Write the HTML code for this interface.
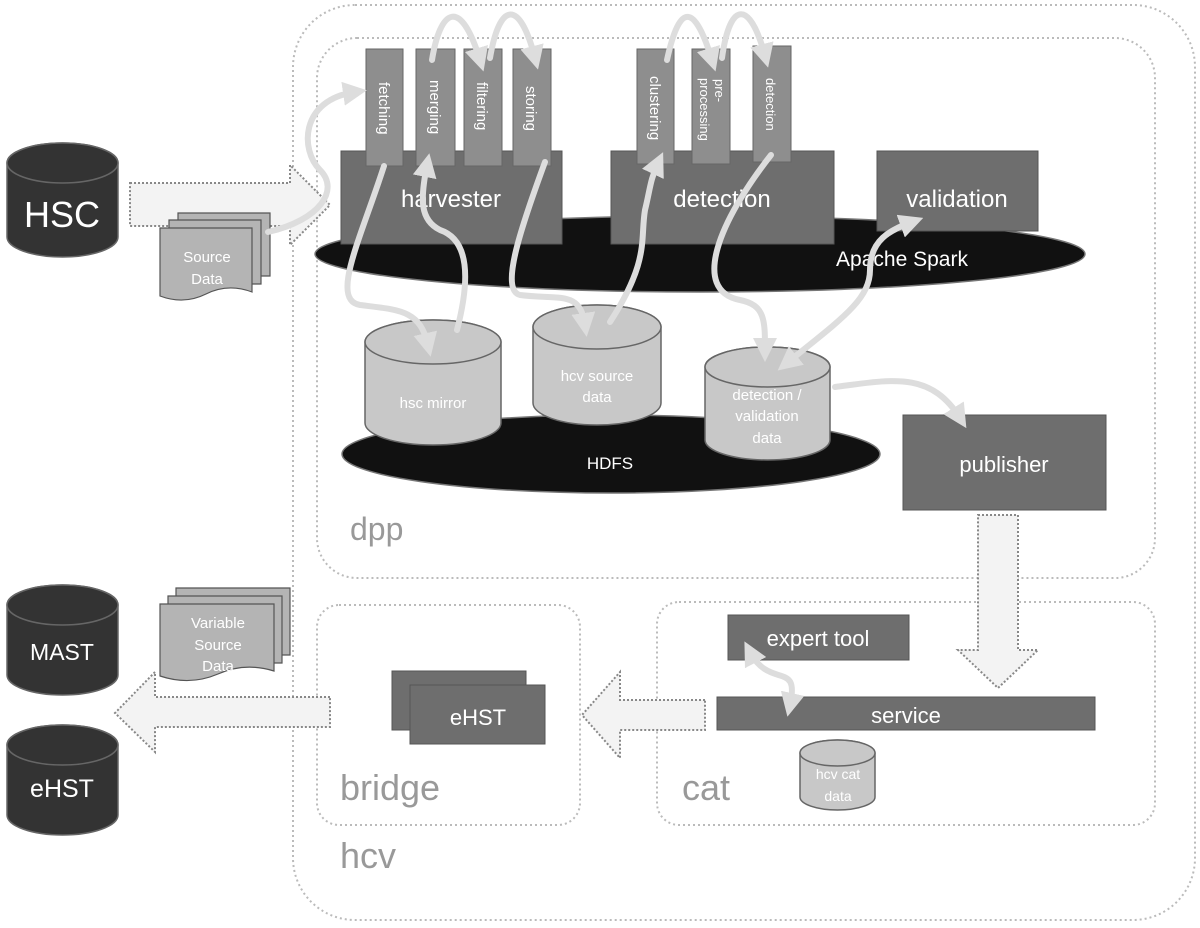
<!DOCTYPE html>
<html><head><meta charset="utf-8"><style>
html,body{margin:0;padding:0;background:#fff}
svg{display:block}
text{font-family:"Liberation Sans",sans-serif}
</style></head><body>
<svg width="1200" height="928" viewBox="0 0 1200 928" xmlns="http://www.w3.org/2000/svg">
<defs>
<marker id="ah" viewBox="0 0 10 10" refX="5" refY="5" markerWidth="4" markerHeight="4" orient="auto-start-reverse" markerUnits="strokeWidth">
<path d="M0,0 L10,5 L0,10 z" fill="#ddd"/></marker>
</defs>
<!-- containers -->
<rect x="293" y="5" width="902" height="915" rx="62" fill="none" stroke="#bbb" stroke-width="2" stroke-dasharray="2,3"/>
<rect x="317" y="38" width="838" height="540" rx="40" fill="none" stroke="#bbb" stroke-width="2" stroke-dasharray="2,3"/>
<rect x="317" y="605" width="263" height="220" rx="22" fill="none" stroke="#bbb" stroke-width="2" stroke-dasharray="2,3"/>
<rect x="657" y="602" width="498" height="223" rx="22" fill="none" stroke="#bbb" stroke-width="2" stroke-dasharray="2,3"/>
<text x="350" y="540" font-size="32" fill="#999">dpp</text>
<text x="340" y="800" font-size="36" fill="#999">bridge</text>
<text x="682" y="800" font-size="36" fill="#999">cat</text>
<text x="340" y="868" font-size="36" fill="#999">hcv</text>

<!-- HSC fat arrow -->
<path d="M130,183 H290 V165 L330,205 L290,245 V226 H130 Z" fill="#f3f3f3" stroke="#888" stroke-width="2" stroke-dasharray="2,2"/>

<!-- spark ellipse -->
<ellipse cx="700" cy="254" rx="385" ry="38" fill="#111" stroke="#777" stroke-width="1.5"/>
<text x="902" y="266" font-size="21" fill="#fff" text-anchor="middle">Apache Spark</text>
<!-- HDFS -->
<ellipse cx="611" cy="454" rx="269" ry="39" fill="#111" stroke="#777" stroke-width="1.5"/>
<text x="610" y="469" font-size="17" fill="#fff" text-anchor="middle">HDFS</text>

<!-- harvester -->
<rect x="341" y="151" width="221" height="93" fill="#6e6e6e" stroke="#555"/>
<rect x="611" y="151" width="223" height="93" fill="#6e6e6e" stroke="#555"/>
<rect x="877" y="151" width="161" height="80" fill="#6e6e6e" stroke="#555"/>
<text x="451" y="207" font-size="24" fill="#fff" text-anchor="middle">harvester</text>
<text x="722" y="207" font-size="24" fill="#fff" text-anchor="middle">detection</text>
<text x="957" y="207" font-size="24" fill="#fff" text-anchor="middle">validation</text>
<g fill="#8e8e8e" stroke="#666">
<rect x="366" y="49" width="37" height="117"/>
<rect x="416" y="49" width="39" height="117"/>
<rect x="464" y="49" width="38" height="117"/>
<rect x="513" y="49" width="38" height="117"/>
<rect x="637" y="49" width="37" height="115"/>
<rect x="692" y="49" width="38" height="115"/>
<rect x="753" y="46" width="38" height="116"/>
</g>
<g fill="#fff" font-size="15">
<text transform="translate(379,82) rotate(90)">fetching</text>
<text transform="translate(430,80) rotate(90)">merging</text>
<text transform="translate(477,82) rotate(90)">filtering</text>
<text transform="translate(526,86) rotate(90)">storing</text>
<text transform="translate(650,76) rotate(90)">clustering</text>
<text transform="translate(715,79) rotate(90)" font-size="13">pre-</text>
<text transform="translate(700,78) rotate(90)" font-size="13">processing</text>
<text transform="translate(766,78) rotate(90)" font-size="13">detection</text>
</g>

<!-- cylinders -->
<g stroke="#666" stroke-width="1.5">
<path d="M365,342 A68,22 0 0 1 501,342 V423 A68,22 0 0 1 365,423 Z" fill="#c8c8c8"/>
<ellipse cx="433" cy="342" rx="68" ry="22" fill="#c8c8c8"/>
<path d="M533,327 A64,22 0 0 1 661,327 V403 A64,22 0 0 1 533,403 Z" fill="#c8c8c8"/>
<ellipse cx="597" cy="327" rx="64" ry="22" fill="#c8c8c8"/>
<path d="M705,367 A62.5,20 0 0 1 830,367 V440 A62.5,20 0 0 1 705,440 Z" fill="#c8c8c8"/>
<ellipse cx="767.5" cy="367" rx="62.5" ry="20" fill="#c8c8c8"/>
<path d="M800,753 A37.5,13 0 0 1 875,753 V797 A37.5,13 0 0 1 800,797 Z" fill="#c8c8c8"/>
<ellipse cx="837.5" cy="753" rx="37.5" ry="13" fill="#c8c8c8"/>
<path d="M7,163 A55.5,20 0 0 1 118,163 V237 A55.5,20 0 0 1 7,237 Z" fill="#333"/>
<ellipse cx="62.5" cy="163" rx="55.5" ry="20" fill="#333"/>
<path d="M7,605 A55.5,20 0 0 1 118,605 V675 A55.5,20 0 0 1 7,675 Z" fill="#333"/>
<ellipse cx="62.5" cy="605" rx="55.5" ry="20" fill="#333"/>
<path d="M7,745 A55.5,20 0 0 1 118,745 V815 A55.5,20 0 0 1 7,815 Z" fill="#333"/>
<ellipse cx="62.5" cy="745" rx="55.5" ry="20" fill="#333"/>
</g>
<g fill="#fff" text-anchor="middle">
<text x="433" y="408" font-size="15">hsc mirror</text>
<text x="597" y="381" font-size="15">hcv source</text>
<text x="597" y="402" font-size="15">data</text>
<text x="767" y="400" font-size="15">detection /</text>
<text x="767" y="421" font-size="15">validation</text>
<text x="767" y="443" font-size="15">data</text>
<text x="838" y="779" font-size="14">hcv cat</text>
<text x="838" y="801" font-size="14">data</text>
<text x="62" y="227" font-size="36">HSC</text>
<text x="62" y="660" font-size="23">MAST</text>
<text x="62" y="797" font-size="25">eHST</text>
</g>

<!-- source data docs -->
<g fill="#b4b4b4" stroke="#555" stroke-width="1.2">
<path d="M178,213 H270 V276 H178 Z"/>
<path d="M169,220 H261 V284 H169 Z"/>
<path d="M160,228 H252 V292 Q228,283 206,294 Q184,305 160,296 Z"/>
<path d="M176,588 H290 V655 H176 Z"/>
<path d="M168,596 H282 V663 H168 Z"/>
<path d="M160,604 H274 V671 Q245,662 218,674 Q190,686 160,676 Z"/>
</g>
<g fill="#fff" text-anchor="middle" font-size="15">
<text x="207" y="262">Source</text>
<text x="207" y="284">Data</text>
<text x="218" y="628">Variable</text>
<text x="218" y="650">Source</text>
<text x="218" y="671">Data</text>
</g>

<!-- publisher & cat -->
<rect x="903" y="415" width="203" height="95" fill="#6e6e6e" stroke="#555"/>
<text x="1004" y="472" font-size="22" fill="#fff" text-anchor="middle">publisher</text>
<path d="M978,515 H1018 V650 H1038 L998,688 L958,650 H978 Z" fill="#f3f3f3" stroke="#888" stroke-width="2" stroke-dasharray="2,2"/>
<rect x="728" y="615" width="181" height="45" fill="#6e6e6e" stroke="#555"/>
<text x="818" y="646" font-size="22" fill="#fff" text-anchor="middle">expert tool</text>
<rect x="717" y="697" width="378" height="33" fill="#6e6e6e" stroke="#555"/>
<text x="906" y="723" font-size="22" fill="#fff" text-anchor="middle">service</text>
<path d="M705,700 H620 V672 L582,715 L620,758 V730 H705 Z" fill="#f3f3f3" stroke="#888" stroke-width="2" stroke-dasharray="2,2"/>
<rect x="392" y="671" width="134" height="59" fill="#6e6e6e" stroke="#555"/>
<rect x="410" y="685" width="135" height="59" fill="#6e6e6e" stroke="#555"/>
<text x="478" y="725" font-size="22" fill="#fff" text-anchor="middle">eHST</text>
<path d="M330,697 H155 V672 L115,713 L155,752 V727 H330 Z" fill="#f3f3f3" stroke="#888" stroke-width="2" stroke-dasharray="2,2"/>

<!-- curvy connectors -->
<g fill="none" stroke="#ddd" stroke-width="6" stroke-linecap="round">
<path d="M268,232 C320,220 340,190 320,170 C300,150 300,100 355,92" marker-end="url(#ah)"/>
<path d="M384,166 C360,240 330,300 360,305 C400,310 420,310 428,345" marker-end="url(#ah)"/>
<path d="M457,330 C470,280 470,240 440,230 C420,220 420,200 427,165" marker-end="url(#ah)"/>
<path d="M432,60 C440,10 460,-5 480,60" marker-end="url(#ah)"/>
<path d="M490,58 C500,0 520,0 535,58" marker-end="url(#ah)"/>
<path d="M545,162 C520,230 500,290 520,295 C560,300 580,290 585,325" marker-end="url(#ah)"/>
<path d="M610,322 C650,260 640,240 645,210 C650,190 650,180 658,163" marker-end="url(#ah)"/>
<path d="M667,60 C680,0 695,5 712,60" marker-end="url(#ah)"/>
<path d="M722,58 C730,0 750,0 765,56" marker-end="url(#ah)"/>
<path d="M771,155 C720,220 690,290 740,300 C765,305 765,320 765,350" marker-end="url(#ah)"/>
<path d="M787,363 C840,320 870,300 870,270 C870,240 890,230 912,222" marker-start="url(#ah)" marker-end="url(#ah)"/>
<path d="M835,387 C890,380 930,370 960,418" marker-end="url(#ah)"/>
<path d="M750,652 C770,690 800,660 790,705" marker-start="url(#ah)" marker-end="url(#ah)"/>
</g>
</svg>
</body></html>
